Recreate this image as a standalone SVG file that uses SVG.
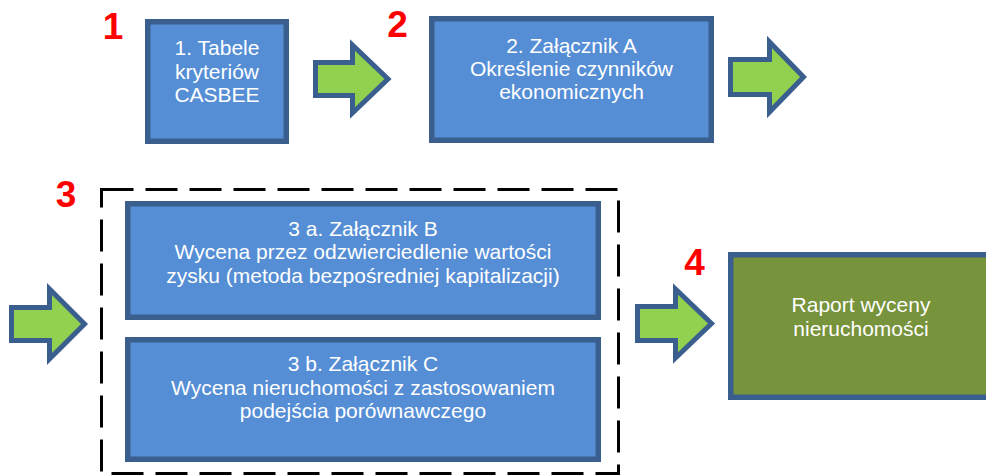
<svg xmlns="http://www.w3.org/2000/svg" width="986" height="475" viewBox="0 0 986 475">
<style>
.box{fill:#558ED5;stroke:#3A5F8E;stroke-width:5.5}
.box4{fill:#77933C;stroke:#3A5F8E;stroke-width:5.5}
.arr{fill:#92D050;stroke:#3A5F8E;stroke-width:5;stroke-linejoin:miter}
.t{font-family:"Liberation Sans",Arial,sans-serif;font-size:21px;fill:#FFFFFF;text-anchor:middle}
.num{font-family:"Liberation Sans",Arial,sans-serif;font-size:37px;font-weight:bold;fill:#FF0000;text-anchor:middle}
.dash{fill:none;stroke:#000000;stroke-width:3;stroke-dasharray:32 12}
</style>
<rect width="986" height="475" fill="#FFFFFF"/>
<g id="labels">
<text class="num" x="113" y="39">1</text>
<text class="num" x="397.5" y="37">2</text>
<text class="num" x="66" y="207">3</text>
<text class="num" x="694.5" y="275">4</text>
</g>
<g id="group3">
<rect class="dash" x="101.5" y="189.5" width="517" height="284"/>
</g>
<g id="connectors">
<polygon class="arr" points="315.5,62.5 352.5,62.5 352.5,45 388,79 352.5,113 352.5,95.5 315.5,95.5"/>
<polygon class="arr" points="730.5,59.5 769.5,59.5 769.5,42 803.5,77 769.5,112 769.5,94.5 730.5,94.5"/>
<polygon class="arr" points="11.5,307.5 49.5,307.5 49.5,289 84.5,324 49.5,359 49.5,340.5 11.5,340.5"/>
<polygon class="arr" points="637.5,306.5 675.5,306.5 675.5,289 711.5,323.5 675.5,358 675.5,340.5 637.5,340.5"/>
</g>
<g id="node1">
<rect class="box" x="147.75" y="21.75" width="138.5" height="119.5"/>
<text class="t" x="217" y="55">1. Tabele</text>
<text class="t" x="217" y="78.5">kryteriów</text>
<text class="t" x="217" y="102">CASBEE</text>
</g>
<g id="node2">
<rect class="box" x="431.75" y="18.75" width="279.5" height="121.5"/>
<text class="t" x="571.5" y="52.5">2. Załącznik A</text>
<text class="t" x="571.5" y="75.5">Określenie czynników</text>
<text class="t" x="571.5" y="98.5">ekonomicznych</text>
</g>
<g id="node3a">
<rect class="box" x="127.75" y="203.75" width="470.5" height="113.5"/>
<text class="t" x="363" y="235.5">3 a. Załącznik B</text>
<text class="t" x="363" y="259">Wycena przez odzwierciedlenie wartości</text>
<text class="t" x="363" y="282.5">zysku (metoda bezpośredniej kapitalizacji)</text>
</g>
<g id="node3b">
<rect class="box" x="127.75" y="339.75" width="470.5" height="119.5"/>
<text class="t" x="363" y="371">3 b. Załącznik C</text>
<text class="t" x="363" y="394.5">Wycena nieruchomości z zastosowaniem</text>
<text class="t" x="363" y="418">podejścia porównawczego</text>
</g>
<g id="node4">
<rect class="box4" x="730.75" y="254.75" width="260.5" height="142.5"/>
<text class="t" x="861" y="312">Raport wyceny</text>
<text class="t" x="861" y="335.5">nieruchomości</text>
</g>
</svg>
